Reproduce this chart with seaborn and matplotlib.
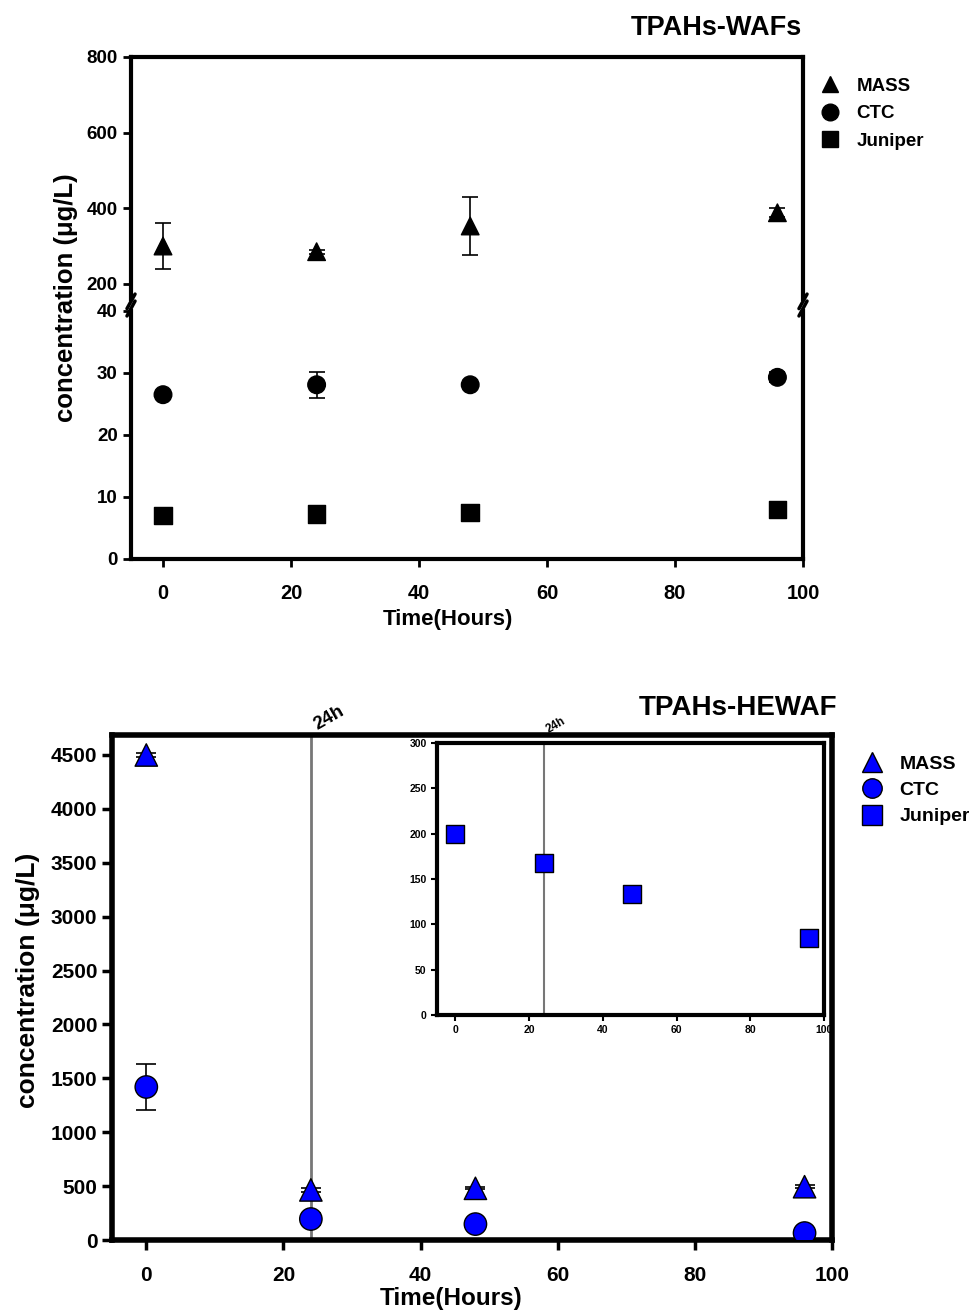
import numpy as np
import pandas as pd
import matplotlib
matplotlib.use("Agg")
import matplotlib.pyplot as plt
import seaborn as sns
from matplotlib.lines import Line2D

sns.set_style("white")
plt.rcParams['font.family'] = ['Liberation Sans', 'DejaVu Sans']
plt.rcParams['font.weight'] = 'bold'
plt.rcParams['text.color'] = 'black'
plt.rcParams['axes.labelcolor'] = 'black'
plt.rcParams['xtick.color'] = 'black'
plt.rcParams['ytick.color'] = 'black'

# time points (hours)
hours = [0, 24, 48, 96]
series = ["MASS", "CTC", "Juniper"]

# TPAHs-WAFs (ug/L)
waf_mass = [300, 285, 353, 388]
waf_mass_err = [60, 5, 77, 12]
waf_ctc = [26.5, 28.1, 28.1, 29.3]
waf_ctc_err = [0.5, 2.1, 0.3, 0.8]
waf_jun = [7.0, 7.3, 7.5, 8.0]
waf_jun_err = [0.2, 0.2, 0.2, 0.3]

# TPAHs-HEWAF (ug/L)
hewaf_mass = [4500, 465, 480, 495]
hewaf_mass_err = [20, 15, 10, 15]
hewaf_ctc = [1420, 195, 148, 65]
hewaf_ctc_err = [210, 60, 15, 10]
hewaf_jun = [200, 168, 134, 85]

markers = {"MASS": "^", "CTC": "o", "Juniper": "s"}


def make_df(vals, errs):
    rows = []
    for name, v, e in zip(series, vals, errs):
        for h, y, ye in zip(hours, v, e):
            rows.append({"hours": h, "conc": y, "err": ye, "series": name})
    return pd.DataFrame(rows)


waf = make_df([waf_mass, waf_ctc, waf_jun], [waf_mass_err, waf_ctc_err, waf_jun_err])
hewaf = make_df([hewaf_mass, hewaf_ctc, hewaf_jun],
                [hewaf_mass_err, hewaf_ctc_err, [0, 0, 0, 0]])

fig = plt.figure(figsize=(9.69, 13.1), dpi=100)

# ---------- top panel: broken y axis ----------
ax_hi = fig.add_axes([0.1352, 0.7718, 0.6935, 0.1847])
ax_lo = fig.add_axes([0.1352, 0.5733, 0.6935, 0.1893])

for ax in (ax_hi, ax_lo):
    ax.errorbar(waf["hours"], waf["conc"], yerr=waf["err"], fmt="none",
                ecolor="black", elinewidth=1.2, capsize=6, capthick=1.2, zorder=2)
    sns.scatterplot(data=waf, x="hours", y="conc", style="series", markers=markers,
                    color="black", edgecolor="black", s=160, legend=False, ax=ax, zorder=3)
    ax.set_xlim(-5, 100)
    ax.set_xlabel("")
    ax.set_ylabel("")
    for sp in ax.spines.values():
        sp.set_linewidth(3)
        sp.set_color("black")
    ax.tick_params(axis="both", direction="out", length=6, width=2, labelsize=13.5,
                   left=True, bottom=True)

ax_hi.set_ylim(160, 800)
ax_hi.set_yticks([200, 400, 600, 800])
ax_hi.spines["bottom"].set_visible(False)
ax_hi.tick_params(axis="x", bottom=False, labelbottom=False)

ax_lo.set_ylim(0, 40)
ax_lo.set_yticks([0, 10, 20, 30, 40])
ax_lo.spines["top"].set_visible(False)
ax_lo.set_xticks([0, 20, 40, 60, 80, 100])
ax_lo.tick_params(axis="x", labelsize=14.5, pad=12)
ax_lo.set_xlabel("Time(Hours)", fontsize=16, fontweight="bold")
ax_lo.xaxis.set_label_coords(0.472, -0.2)

# break marks
for xx in (0, 1):
    ax_hi.plot([xx - 0.006, xx + 0.006], [-0.04, 0.02], transform=ax_hi.transAxes,
               color="black", lw=2.5, clip_on=False)
    ax_lo.plot([xx - 0.006, xx + 0.006], [0.98, 1.04], transform=ax_lo.transAxes,
               color="black", lw=2.5, clip_on=False)

fig.text(0.068, 0.7725, "concentration (\u03bcg/L)", rotation=90, ha="center",
         va="center", fontsize=18.5, fontweight="bold")
fig.text(0.828, 0.979, "TPAHs-WAFs", ha="right", va="center", fontsize=19.5,
         fontweight="bold")

handles_k = [Line2D([], [], ls="none", marker=markers[n], color="black",
                    markersize=12, label=n) for n in series]
fig.legend(handles=handles_k, loc="upper left", bbox_to_anchor=(0.828, 0.9535),
           frameon=False, fontsize=13.5, handletextpad=0.8, labelspacing=0.55,
           handlelength=1.2)

# ---------- bottom panel ----------
ax_b = fig.add_axes([0.1156, 0.0534, 0.743, 0.3855])
main = hewaf[hewaf["series"] != "Juniper"]
ax_b.axvline(24, color="#777777", lw=2, zorder=1)
ax_b.errorbar(main["hours"], main["conc"], yerr=main["err"], fmt="none",
              ecolor="black", elinewidth=1.2, capsize=7, capthick=1.2, zorder=2)
sns.scatterplot(data=main, x="hours", y="conc", style="series", markers=markers,
                color="blue", edgecolor="black", linewidth=1, s=260, legend=False,
                ax=ax_b, zorder=3)
ax_b.set_xlim(-5, 100)
ax_b.set_ylim(0, 4685)
ax_b.set_xticks([0, 20, 40, 60, 80, 100])
ax_b.set_yticks(np.arange(0, 4501, 500))
ax_b.set_xlabel("Time(Hours)", fontsize=17.5, fontweight="bold")
ax_b.xaxis.set_label_coords(0.471, -0.093)
ax_b.set_ylabel("")
for sp in ax_b.spines.values():
    sp.set_linewidth(4)
    sp.set_color("black")
ax_b.tick_params(axis="both", direction="out", length=7, width=2.5, labelsize=15,
                 left=True, bottom=True)
ax_b.tick_params(axis="x", pad=12)
ax_b.text(24, 4700, "24h", rotation=30, ha="left", va="bottom", fontsize=13.5,
          fontweight="bold")

fig.text(0.029, 0.252, "concentration (\u03bcg/L)", rotation=90, ha="center",
         va="center", fontsize=19, fontweight="bold")
fig.text(0.864, 0.4595, "TPAHs-HEWAF", ha="right", va="center", fontsize=20,
         fontweight="bold")

handles_b = [Line2D([], [], ls="none", marker=markers[n], markerfacecolor="blue",
                    markeredgecolor="black", markersize=14, label=n) for n in series]
fig.legend(handles=handles_b, loc="upper left", bbox_to_anchor=(0.87, 0.437),
           frameon=False, fontsize=14, handletextpad=0.8, labelspacing=0.45,
           handlelength=1.2)

# ---------- inset ----------
ax_in = fig.add_axes([0.451, 0.2252, 0.3994, 0.2076])
jun = hewaf[hewaf["series"] == "Juniper"]
ax_in.axvline(24, color="#777777", lw=1.5, zorder=1)
sns.scatterplot(data=jun, x="hours", y="conc", marker="s", color="blue",
                edgecolor="black", linewidth=1, s=170, legend=False, ax=ax_in, zorder=3)
ax_in.set_xlim(-5, 100)
ax_in.set_ylim(0, 300)
ax_in.set_xticks([0, 20, 40, 60, 80, 100])
ax_in.set_yticks(np.arange(0, 301, 50))
ax_in.set_xlabel("")
ax_in.set_ylabel("")
for sp in ax_in.spines.values():
    sp.set_linewidth(3)
    sp.set_color("black")
ax_in.tick_params(axis="both", direction="out", length=4, width=1.5, labelsize=7.5,
                  left=True, bottom=True)
ax_in.text(24, 308, "24h", rotation=30, ha="left", va="bottom", fontsize=8.5,
           fontweight="bold")

fig.savefig("out.png", dpi=100)
